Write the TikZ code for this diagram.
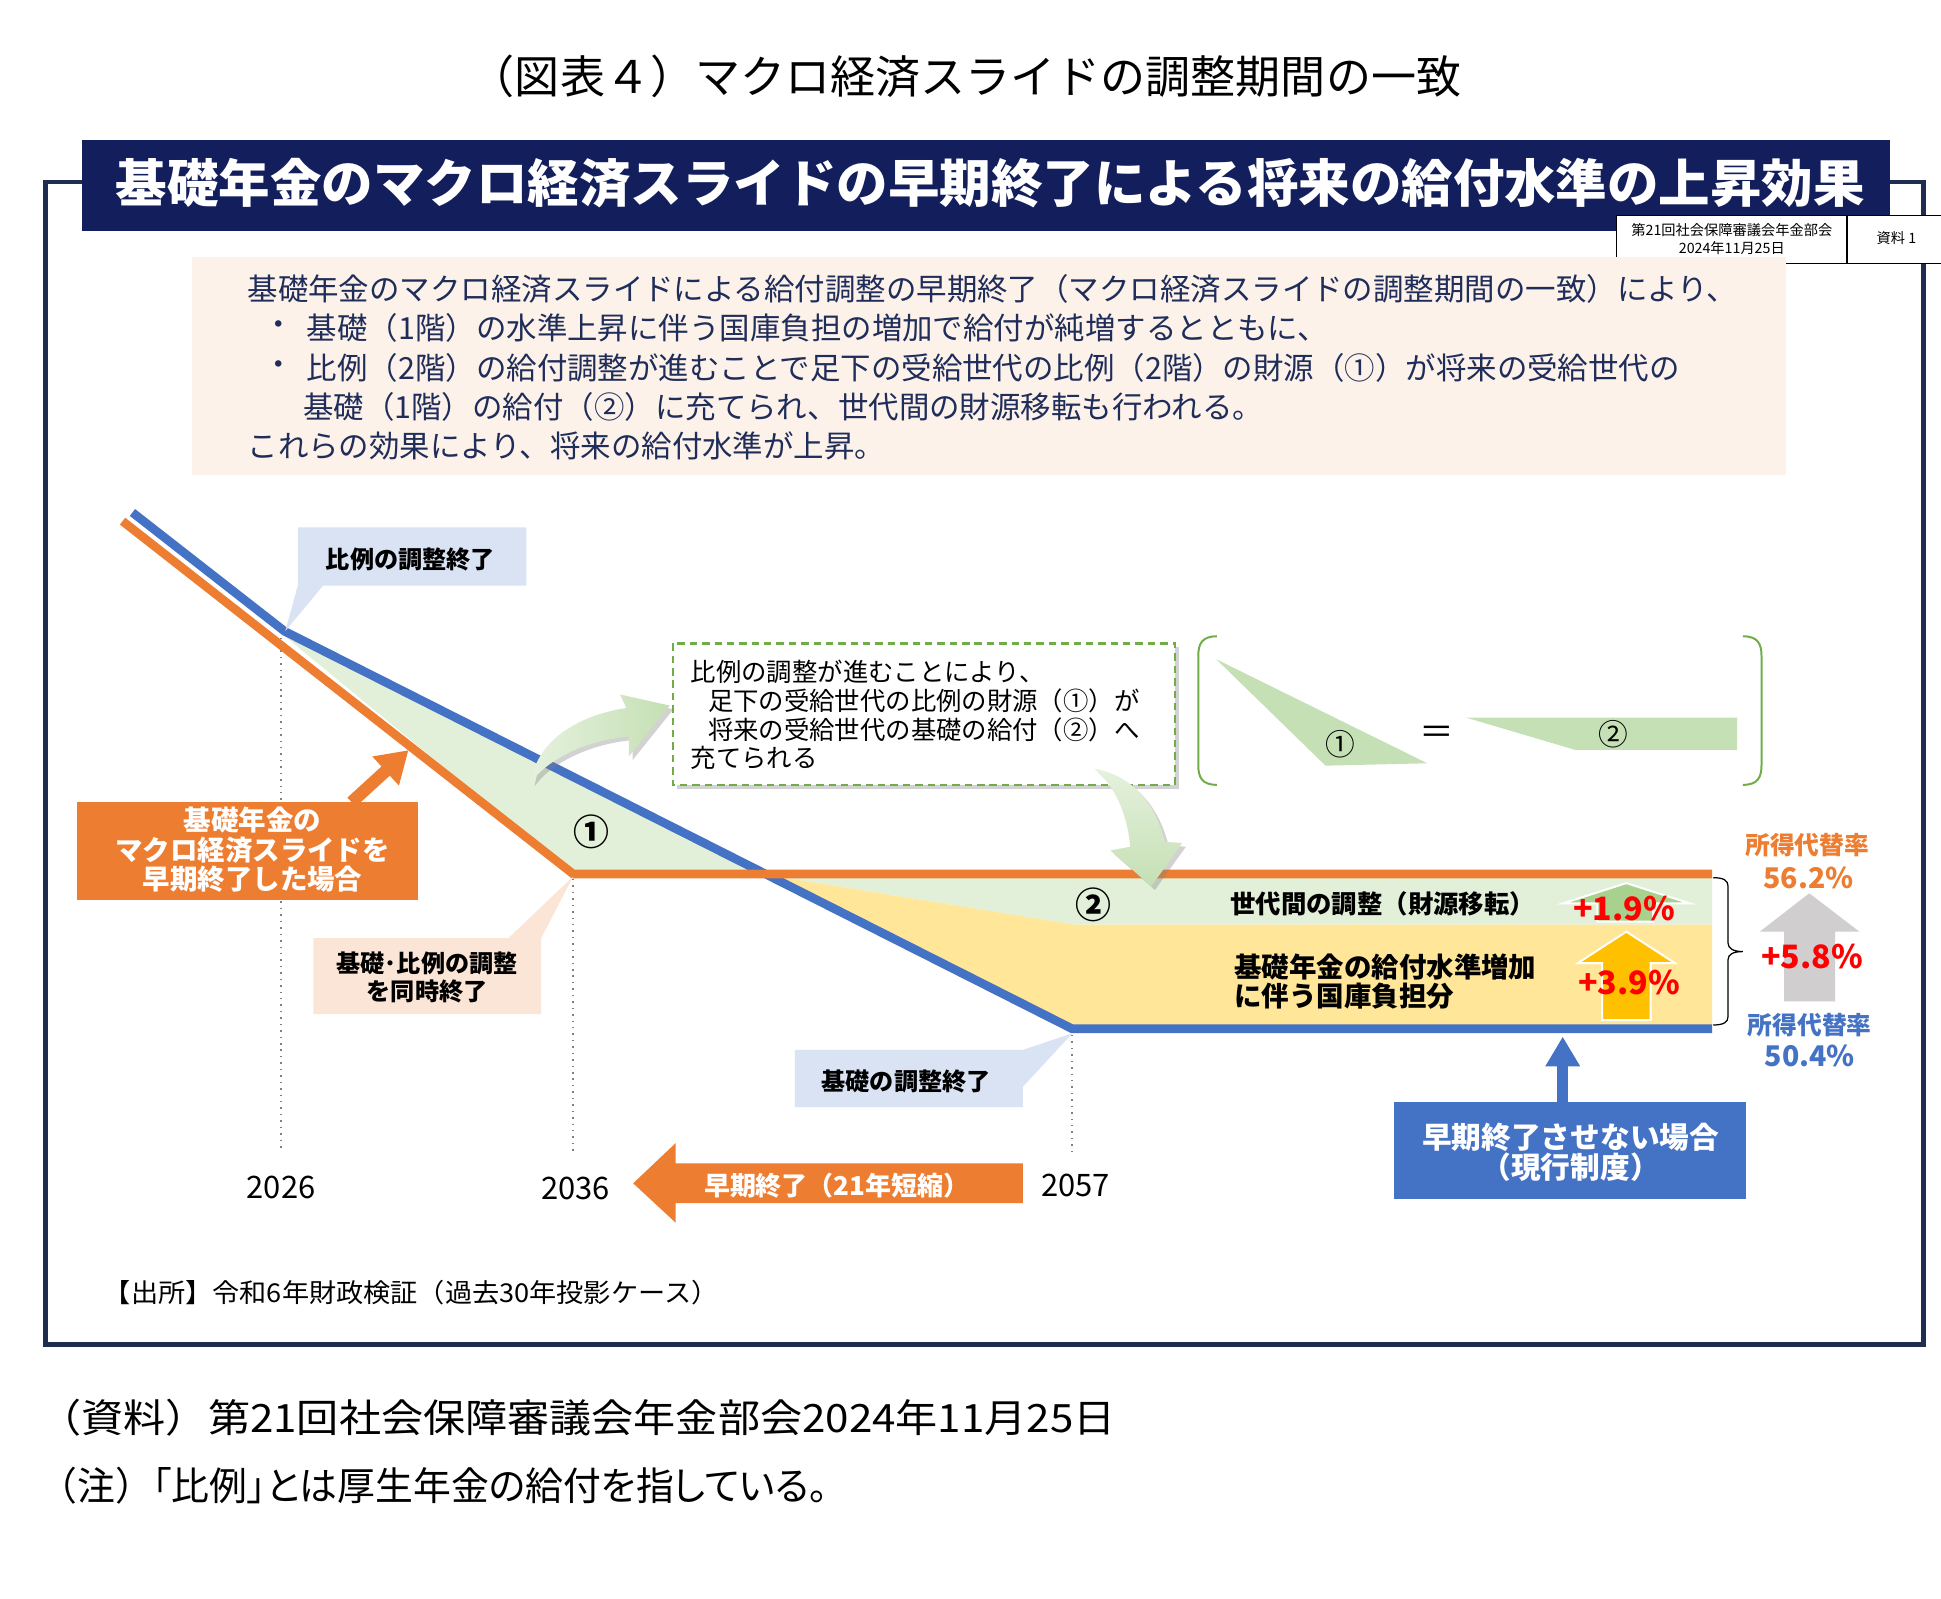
\documentclass[tikz,border=0pt]{standalone}
\usepackage{graphicx}
\usepackage{fontspec}
\setmainfont{Noto Sans CJK JP}
\newfontfamily\pfont[RawFeature=+palt]{Noto Sans CJK JP}
\usetikzlibrary{arrows.meta,shadows}
\definecolor{navy}{RGB}{19,31,92}
\definecolor{framec}{RGB}{31,45,80}
\definecolor{txtnavy}{RGB}{31,45,90}
\definecolor{peach}{RGB}{253,242,233}
\definecolor{orng}{RGB}{237,125,49}
\definecolor{blu}{RGB}{68,114,196}
\definecolor{lgreen}{RGB}{226,240,217}
\definecolor{mgreen}{RGB}{197,224,180}
\definecolor{ggreen}{RGB}{169,209,142}
\definecolor{yel}{RGB}{255,230,153}
\definecolor{gold}{RGB}{255,192,0}
\definecolor{lblue}{RGB}{218,227,243}
\definecolor{lpeach}{RGB}{251,229,214}
\definecolor{dgreen}{RGB}{112,173,71}
\definecolor{gry}{RGB}{208,206,206}
\definecolor{pred}{RGB}{255,0,0}
\newcommand\fs[2]{\fontsize{#1}{#2}\selectfont}
\begin{document}
\begin{tikzpicture}[x=0.5pt,y=-0.5pt,
  txt/.style={inner sep=0pt,outer sep=0pt},
  lbl/.style={txt,font=\fs{9.75pt}{11.5pt}\bfseries,align=center},
  pct/.style={txt,text=pred,font=\fs{13pt}{13pt}\bfseries},
  upar/.style={draw=white,line width=0.8pt},
  gshadow/.style={drop shadow={opacity=0.35,shadow xshift=1.5pt,shadow yshift=-1.5pt}}]
\path[use as bounding box,fill=white] (0,0) rectangle (1568,1291);

% top title
\node[txt,font=\fs{18.2pt}{18.2pt}] (ttl) at (780,62) {（図表４）マクロ経済スライドの調整期間の一致};

% frame and title bar
\draw[framec,line width=2pt] (37,147) rectangle (1554,1086);
\fill[navy] (66,113) rectangle (1527,187);
\node[txt,text=white,font=\fs{20.8pt}{20.8pt}\bfseries] (bar) at (800,148) {基礎年金のマクロ経済スライドの早期終了による将来の給付水準の上昇効果};

% meeting box
\draw[black,line width=0.6pt,fill=white] (1306,174) rectangle (1492,213);
\draw[black,line width=0.6pt,fill=white] (1492,174) rectangle (1580,213);
\node[txt,font=\fs{5.75pt}{7.5pt},align=center] (meet) at (1399,193) {第21回社会保障審議会年金部会\\2024年11月25日};
\node[txt,font=\fs{5.75pt}{5.75pt}] (shiryo) at (1532,192.5) {資料 1};

% peach box
\fill[peach] (155,208) rectangle (1443,384);
\begin{scope}[every node/.style={txt,anchor=west,text=txtnavy,font=\fs{12.3pt}{12.3pt}}]
\node (p1) at (200,233) {基礎年金のマクロ経済スライドによる給付調整の早期終了（マクロ経済スライドの調整期間の一致）により、};
\node[anchor=center] (b1) at (225,265) {・};
\node (p2) at (248,265) {基礎（1階）の水準上昇に伴う国庫負担の増加で給付が純増するとともに、};
\node[anchor=center] (b2) at (225,297) {・};
\node (p3) at (248,297) {比例（2階）の給付調整が進むことで足下の受給世代の比例（2階）の財源（①）が将来の受給世代の};
\node (p4) at (245,329) {基礎（1階）の給付（②）に充てられ、世代間の財源移転も行われる。};
\node (p5) at (200,360) {これらの効果により、将来の給付水準が上昇。};
\end{scope}

% shaded regions
\fill[lgreen] (229,513) -- (615,706) -- (463,706) -- cycle;
\fill[lgreen] (615,706) -- (1383,706) -- (1383,747) -- (868,747) -- cycle;
\fill[yel] (615,706) -- (868,747) -- (1383,747) -- (1383,831) -- (866,831) -- cycle;

% dotted verticals
\draw[gray,dotted,line width=0.6pt] (227,515) -- (227,930);
\draw[gray,dotted,line width=0.6pt] (463,710) -- (463,932);
\draw[gray,dotted,line width=0.6pt] (866,836) -- (866,930);

% lines
\draw[blu,line width=3.5pt,line join=miter] (107,414) -- (230,510) -- (866,831) -- (1383,831);
\draw[orng,line width=3.5pt,line join=miter] (99,421) -- (463,706) -- (1383,706);

% circled numbers in chart
\node[txt,font=\fs{14.5pt}{14.5pt}\bfseries] (c1) at (477.5,672) {①};
\node[txt,font=\fs{14.5pt}{14.5pt}\bfseries] (c2) at (883.6,731) {②};

% callouts
\fill[lblue] (240.6,426) -- (425.2,426) -- (425.2,473) -- (261,473) -- (230.5,509.8) -- (240.6,473) -- cycle;
\node[lbl] (hirei) at (331.5,452) {比例の調整終了};
\fill[lpeach] (253.2,757.8) -- (410.8,757.8) -- (463,708) -- (437.2,757.8) -- (437.2,819.3) -- (253.2,819.3) -- cycle;
\node[lbl] (doji) at (345,789.5) {基礎･比例の調整\\を同時終了};
\fill[lblue] (642.2,848.2) -- (826.2,848.2) -- (866.3,834.7) -- (826.2,878) -- (826.2,894.4) -- (642.2,894.4) -- cycle;
\node[lbl] (kiso) at (732,873.5) {基礎の調整終了};

% orange box + arrow
\node[txt,fill=orng,minimum width=275.5*0.5pt,minimum height=79*0.5pt] (obox) at (200.25,687.5) {};
\node[txt,text=white,font=\fs{11.1pt}{12pt}\bfseries,align=center] (otext) at (204,686.5) {基礎年金の\\マクロ経済スライドを\\早期終了した場合};
\coordinate (otip) at (330,606);
\draw[orng,line width=5pt,-{Triangle[length=12.5pt,width=15pt]}] (obox.north -| 284,0) -- (otip);

% dashed box
\path[draw=dgreen,dashed,dash pattern=on 3pt off 2pt,line width=1pt,fill=white,gshadow] (543.6,519.7) rectangle (949.1,634);
\begin{scope}[every node/.style={txt,anchor=west,font=\fs{10.25pt}{10.25pt}}]
\node (d1) at (558,542.5) {比例の調整が進むことにより、};
\node (d2) at (572,566.5) {足下の受給世代の比例の財源（①）が};
\node (d3) at (572,589.5) {将来の受給世代の基礎の給付（②）へ};
\node (d4) at (558,612.5) {充てられる};
\end{scope}

% green curved arrows
\path[left color=white!55!mgreen,right color=mgreen,gshadow]
  (429,632) .. controls (433,600) and (465,578) .. (506,572)
  -- (501,561) -- (541,570) -- (508,611) -- (508,595)
  .. controls (480,597) and (445,610) .. (429,632) -- cycle;
\path[top color=white!55!mgreen,bottom color=mgreen,gshadow]
  (884,621) .. controls (912,626) and (932,645) .. (941,680)
  -- (955,681) -- (930,716) -- (897,687) -- (913,684)
  .. controls (911,660) and (902,636) .. (884,621) -- cycle;

% bracket group
\draw[dgreen,line width=0.8pt] (983,514) .. controls (971,514) and (968,520) .. (968,530) -- (968,618) .. controls (968,628) and (971,634) .. (983,634);
\draw[dgreen,line width=0.8pt] (1408,514) .. controls (1420,514) and (1423,520) .. (1423,530) -- (1423,618) .. controls (1423,628) and (1420,634) .. (1408,634);
\fill[mgreen] (982.6,532.6) -- (1153,616.6) -- (1070.8,618.5) -- cycle;
\node[txt,font=\fs{12pt}{12pt}] (e1) at (1082.4,601) {①};
\node[txt,font=\fs{14pt}{14pt}] (eq) at (1160.7,593.7) {＝};
\fill[mgreen] (1184.4,579.7) -- (1403.2,579.7) -- (1403.2,605.8) -- (1272.6,605.8) -- cycle;
\node[txt,font=\fs{12pt}{12pt}] (e2) at (1303.2,593) {②};

% band texts
\node[txt,anchor=west,font=\fs{10.25pt}{10.25pt}\bfseries] (sedai) at (994,730) {世代間の調整（財源移転）};
\node[txt,anchor=west,font=\fs{11.1pt}{12pt}\bfseries,align=left] (kokko) at (997,793) {基礎年金の給付水準増加\\に伴う国庫負担分};

% up arrows
\filldraw[fill=ggreen,upar] (1290.3,744.5) -- (1290.3,729.7) -- (1262.8,729.7) -- (1313.8,713.4) -- (1364.8,729.7) -- (1335.5,729.7) -- (1335.5,744.5) -- cycle;
\node[pct] (p19) at (1312,734) {+1.9\%};
\filldraw[fill=gold,upar] (1294.2,824) -- (1294.2,778) -- (1274.6,778) -- (1313.8,752.6) -- (1353,778) -- (1333.4,778) -- (1333.4,824) -- cycle;
\node[pct] (p39) at (1316,794) {+3.9\%};
\fill[gry] (1441.2,809) -- (1441.2,752.6) -- (1421.6,752.6) -- (1461.6,721.6) -- (1502,752.6) -- (1482.4,752.6) -- (1482.4,809) -- cycle;
\node[pct] (p58) at (1464,773) {+5.8\%};

% brace
\draw[black,line width=0.5pt] (1384,709) .. controls (1392,709) and (1396,711) .. (1396,716) -- (1396,762) .. controls (1396,766) and (1400,768.7) .. (1408,768.7) .. controls (1400,768.7) and (1396,771) .. (1396,775) -- (1396,821) .. controls (1396,826) and (1392,828) .. (1384,828);

% replacement rates
\node[txt,text=orng,font=\fs{10pt}{10pt}\bfseries] (r1) at (1460,683) {所得代替率};
\node[txt,text=orng,font=\fs{11.5pt}{11.5pt}\bfseries] (r1v) at (1461,709) {56.2\%};
\node[txt,text=blu,font=\fs{10pt}{10pt}\bfseries] (r2) at (1462,828) {所得代替率};
\node[txt,text=blu,font=\fs{11.5pt}{11.5pt}\bfseries] (r2v) at (1462,853) {50.4\%};

% current system box + arrow
\node[txt,fill=blu,minimum width=284.2*0.5pt,minimum height=78.7*0.5pt] (curbox) at (1268.5,929.35) {};
\node[txt,text=white,font=\fs{12pt}{12.1pt}\bfseries,align=center] (curtext) at (1268.8,931) {早期終了させない場合\\（現行制度）};
\coordinate (btip) at (1262.4,837.4);
\draw[blu,line width=4.4pt,-{Triangle[length=12pt,width=13.2pt]}] (curbox.north -| btip) -- (btip);

% years
\node[txt,font=\fs{12.5pt}{12.5pt}] (y1) at (227,959) {2026};
\node[txt,font=\fs{12.5pt}{12.5pt}] (y2) at (465,960) {2036};
\node[txt,font=\fs{12.5pt}{12.5pt}] (y3) at (869,958) {2057};

% left orange arrow
\fill[orng] (826.2,939.7) -- (545.7,939.7) -- (545.7,923.5) -- (511.5,955.9) -- (545.7,987.6) -- (545.7,972) -- (826.2,972) -- cycle;
\node[txt,text=white,font=\fs{10.5pt}{10.5pt}\bfseries] (short) at (676,957.5) {早期終了（21年短縮）};

% source
\node[txt,anchor=west,font=\fs{10.5pt}{10.5pt}] (src) at (84,1044) {\scalebox{1.045}[1]{【出所】令和6年財政検証（過去30年投影ケース）}};

% notes
\node[txt,anchor=west,font=\fs{15.75pt}{15.75pt}] (n1) at (32,1145) {\scalebox{1.08}[1]{（資料）第21回社会保障審議会年金部会2024年11月25日}};
\node[txt,anchor=west,font=\fs{15.75pt}{15.75pt}] (n2) at (32,1200) {\scalebox{0.97}[1]{（注）{\pfont 「比例」とは厚生年金の給付を指している。}}};
\end{tikzpicture}
\end{document}
